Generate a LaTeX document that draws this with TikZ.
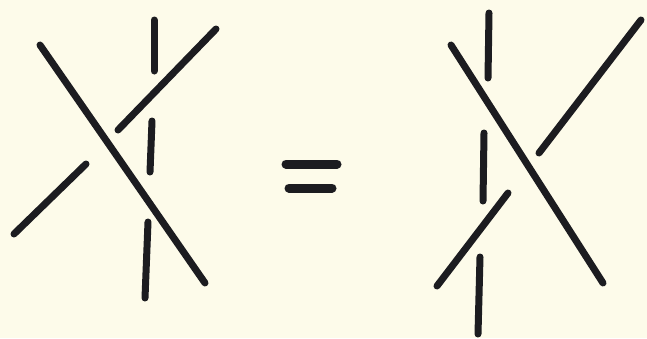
\documentclass[tikz,border=0pt]{standalone}
\definecolor{paper}{RGB}{253,251,234}
\definecolor{ink}{RGB}{28,28,32}
\begin{document}
\begin{tikzpicture}[x=1pt,y=-1pt,
  strand/.style={draw=ink,line width=7pt,line cap=round},
  bar/.style={draw=ink,line width=9pt,line cap=round}]
\fill[paper] (0,0) rectangle (647,338);
\useasboundingbox (0,0) rectangle (647,338);
% left figure
\draw[strand] (40,45) -- (205,283);
\draw[strand] (154,20) -- (154,71);
\draw[strand] (152,121) -- (150,172);
\draw[strand] (148,222) -- (145,298);
\draw[strand] (216,29) -- (118,130);
\draw[strand] (86,164) -- (14,234);
% equals sign
\draw[bar] (286,164) -- (337,164);
\draw[bar] (289,188) -- (332,188);
% right figure
\draw[strand] (451,45) -- (603,283);
\draw[strand] (489,13) -- (488,78);
\draw[strand] (484,133) -- (483,201);
\draw[strand] (480,257) -- (478,334);
\draw[strand] (641,20) -- (539,153);
\draw[strand] (508,193) -- (437,286);
\end{tikzpicture}
\end{document}
